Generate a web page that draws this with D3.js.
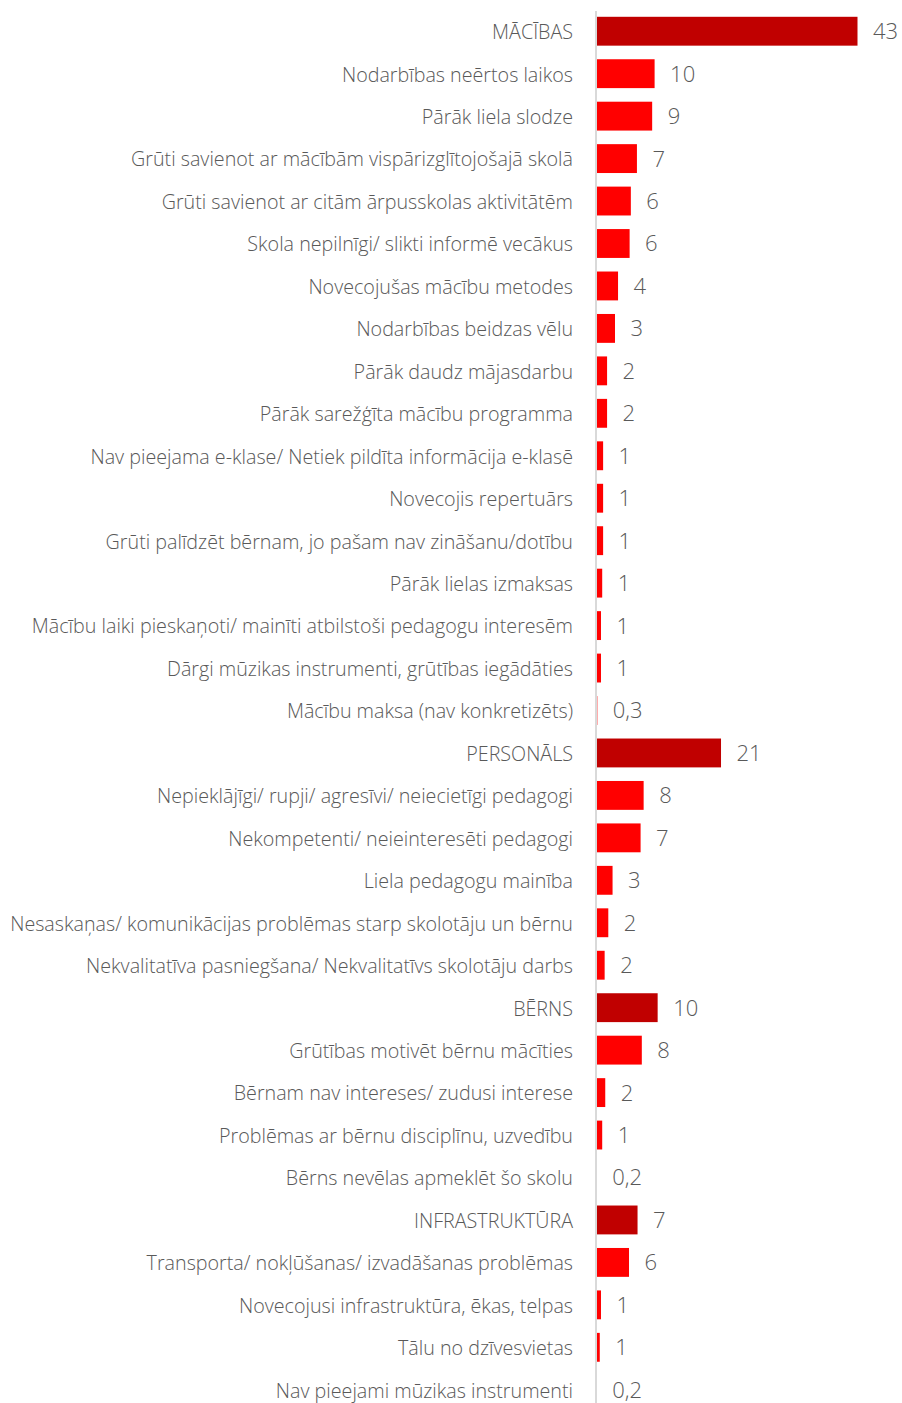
<!DOCTYPE html>
<meta charset="utf-8">
<style>
    body {
        margin: 0;
        background: #fff;
    }

    .axis path {
        fill: none;
        stroke: #d9d9d9;
        stroke-width: 2;
        shape-rendering: crispEdges;
    }

    .axis text {
        font-family: "Open Sans", sans-serif;
        font-weight: 300;
        font-size: 19.7px;
        fill: #595959;
    }

    .value {
        font-family: "Open Sans", sans-serif;
        font-weight: 300;
        font-size: 22px;
        fill: #595959;
    }
</style>

<body>
    <div class="chart"></div>
</body>
<script src="https://cdn.jsdelivr.net/npm/d3@7"></script>
<script>
    // rows, top to bottom; group headers are in capitals
    var labels = [
        'MĀCĪBAS',
        'Nodarbības neērtos laikos',
        'Pārāk liela slodze',
        'Grūti savienot ar mācībām vispārizglītojošajā skolā',
        'Grūti savienot ar citām ārpusskolas aktivitātēm',
        'Skola nepilnīgi/ slikti informē vecākus',
        'Novecojušas mācību metodes',
        'Nodarbības beidzas vēlu',
        'Pārāk daudz mājasdarbu',
        'Pārāk sarežģīta mācību programma',
        'Nav pieejama e-klase/ Netiek pildīta informācija e-klasē',
        'Novecojis repertuārs',
        'Grūti palīdzēt bērnam, jo pašam nav zināšanu/dotību',
        'Pārāk lielas izmaksas',
        'Mācību laiki pieskaņoti/ mainīti atbilstoši pedagogu interesēm',
        'Dārgi mūzikas instrumenti, grūtības iegādāties',
        'Mācību maksa (nav konkretizēts)',
        'PERSONĀLS',
        'Nepieklājīgi/ rupji/ agresīvi/ neiecietīgi pedagogi',
        'Nekompetenti/ neieinteresēti pedagogi',
        'Liela pedagogu mainība',
        'Nesaskaņas/ komunikācijas problēmas starp skolotāju un bērnu',
        'Nekvalitatīva pasniegšana/ Nekvalitatīvs skolotāju darbs',
        'BĒRNS',
        'Grūtības motivēt bērnu mācīties',
        'Bērnam nav intereses/ zudusi interese',
        'Problēmas ar bērnu disciplīnu, uzvedību',
        'Bērns nevēlas apmeklēt šo skolu',
        'INFRASTRUKTŪRA',
        'Transporta/ nokļūšanas/ izvadāšanas problēmas',
        'Novecojusi infrastruktūra, ēkas, telpas',
        'Tālu no dzīvesvietas',
        'Nav pieejami mūzikas instrumenti'
    ];

    // percentages
    var values = [
        43.0, 9.7, 9.3, 6.8, 5.8, 5.6, 3.7, 3.2, 1.9, 1.9, 1.25, 1.25, 1.25, 1.1, 0.9, 0.9, 0.3,
        20.6, 7.9, 7.4, 2.8, 2.1, 1.5,
        10.2, 7.6, 1.6, 1.1, 0.2,
        6.9, 5.5, 0.9, 0.7, 0.2
    ];

    var groups = ['MĀCĪBAS', 'PERSONĀLS', 'BĒRNS', 'INFRASTRUKTŪRA'];

    var groupColor = '#C00000',
        itemColor = '#FF0000';

    var margin = { top: 10, left: 595 },
        width = 262,
        height = 1401;

    var data = labels.map(function (d, i) {
        return { label: d, value: values[i], group: groups.indexOf(d) >= 0 };
    });

    var y = d3.scaleBand()
        .domain(labels)
        .range([0, height])
        .paddingInner(0.32)
        .paddingOuter(0.16);

    var x = d3.scaleLinear()
        .domain([0, 43])
        .range([0, width]);

    function fmt(v) {
        if (v >= 0.5) return String(Math.round(v));
        return v.toFixed(1).replace('.', ',');
    }

    var svg = d3.select('.chart')
        .append('svg')
        .attr('width', 902)
        .attr('height', 1403)
        .append('g')
        .attr('transform', 'translate(' + margin.left + ',' + margin.top + ')');

    svg.selectAll('.bar')
        .data(data)
        .enter().append('rect')
        .attr('class', 'bar')
        .attr('x', 0.5)
        .attr('y', function (d) { return y(d.label); })
        .attr('width', function (d) { return x(d.value); })
        .attr('height', y.bandwidth())
        .attr('fill', function (d) { return d.group ? groupColor : itemColor; });

    svg.selectAll('.value')
        .data(data)
        .enter().append('text')
        .attr('class', 'value')
        .attr('x', function (d) { return x(d.value) + 16; })
        .attr('y', function (d) { return y(d.label) + y.bandwidth() / 2; })
        .attr('dy', '0.36em')
        .text(function (d) { return fmt(d.value); });

    svg.append('g')
        .attr('class', 'axis')
        .call(d3.axisLeft(y).tickSize(0).tickPadding(22))
        .selectAll('text')
        .attr('dy', '0.4em');
</script>
